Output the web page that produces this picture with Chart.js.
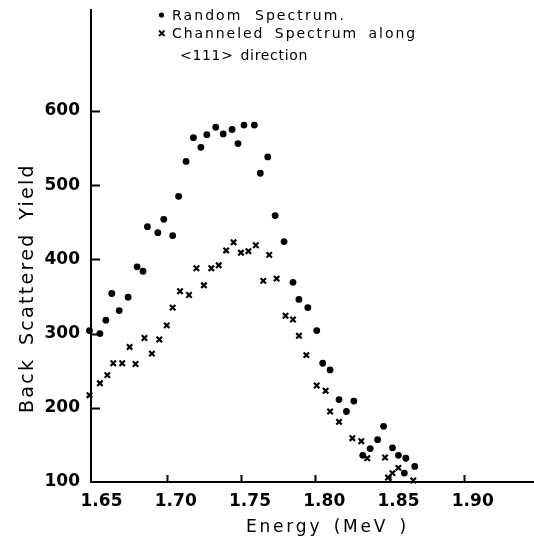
<!DOCTYPE html>
<html>
<head>
<meta charset="utf-8">
<script src="https://cdn.jsdelivr.net/npm/chart.js@4"></script>
<style>
  body { margin: 0; background: #fff; }
  #wrap { width: 534px; height: 542px; }
</style>
</head>
<body>
<div id="wrap"><canvas id="yieldChart" width="534" height="542"></canvas></div>
<script>
// values
const randomX = [1.648, 1.655, 1.659, 1.663, 1.668, 1.674, 1.680, 1.684, 1.687, 1.694, 1.698, 1.704, 1.708,
  1.713, 1.718, 1.723, 1.727, 1.733, 1.738, 1.744, 1.748, 1.752, 1.759, 1.763, 1.768, 1.773, 1.779, 1.785,
  1.789, 1.795, 1.801, 1.805, 1.810, 1.816, 1.821, 1.826, 1.832, 1.837, 1.842, 1.846, 1.852, 1.856, 1.860,
  1.861, 1.867];
const randomY = [304, 300, 318, 354, 331, 349, 390, 384, 444, 436, 454, 432, 485,
  532, 564, 551, 568, 578, 569, 575, 556, 581, 581, 516, 538, 459, 424, 369,
  346, 335, 304, 260, 251, 211, 195, 209, 136, 145, 157, 175, 146, 136, 112,
  132, 121];

const channeledX = [1.648, 1.655, 1.660, 1.664, 1.670, 1.675, 1.679, 1.685, 1.690, 1.695, 1.700, 1.704,
  1.709, 1.715, 1.720, 1.725, 1.730, 1.735, 1.740, 1.745, 1.750, 1.755, 1.760, 1.765, 1.769, 1.774, 1.780,
  1.785, 1.789, 1.794, 1.801, 1.807, 1.810, 1.816, 1.825, 1.831, 1.835, 1.847, 1.849, 1.852, 1.856, 1.866];
const channeledY = [217, 233, 244, 260, 260, 282, 259, 294, 273, 292, 311, 335,
  357, 352, 388, 365, 388, 392, 412, 423, 409, 411, 419, 371, 406, 374, 324,
  319, 297, 271, 230, 223, 195, 181, 159, 155, 132, 133, 106, 112, 119, 102];

const xTicks = [1.65, 1.70, 1.75, 1.80, 1.85, 1.90];
const yTicks = [100, 200, 300, 400, 500, 600];

const legendLines = ["Random Spectrum.", "Channeled Spectrum along", "<111> direction"];
const xTitle = "Energy (MeV )";
const yTitle = "Back Scattered Yield";

const FONT = "'DejaVu Sans', sans-serif";

// draw text stretched to a given width, a little extra on the word gaps
function spacedText(ctx, text, x, y, width) {
  ctx.letterSpacing = "0px";
  ctx.wordSpacing = "0px";
  const w = ctx.measureText(text).width;
  const gaps = (text.match(/ /g) || []).length;
  let extra = Math.max(0, width - w);
  if (gaps > 0) {
    ctx.wordSpacing = (extra * 0.15 / gaps) + "px";
    extra *= 0.85;
  }
  ctx.letterSpacing = (extra / text.length) + "px";
  ctx.fillText(text, x, y);
  ctx.letterSpacing = "0px";
  ctx.wordSpacing = "0px";
}

const decorPlugin = {
  id: "decor",
  afterDraw(chart) {
    const ctx = chart.ctx;
    const xs = chart.scales.x;
    const ys = chart.scales.y;
    const area = chart.chartArea;
    ctx.save();
    ctx.strokeStyle = "#000";
    ctx.fillStyle = "#000";
    ctx.lineWidth = 2;

    // inward tick marks
    ctx.beginPath();
    yTicks.slice(1).forEach(v => {
      const py = Math.round(ys.getPixelForValue(v)) + 0.5;
      ctx.moveTo(area.left, py);
      ctx.lineTo(area.left + 9, py);
    });
    xTicks.slice(1).forEach(v => {
      const px = Math.round(xs.getPixelForValue(v)) + 0.5;
      ctx.moveTo(px, area.bottom);
      ctx.lineTo(px, area.bottom - 7);
    });
    ctx.stroke();

    // axis titles
    ctx.textAlign = "left";
    ctx.textBaseline = "alphabetic";
    ctx.font = "17px " + FONT;
    spacedText(ctx, xTitle, 246, 532, 163);

    ctx.save();
    ctx.translate(33, 288);
    ctx.rotate(-Math.PI / 2);
    ctx.font = "19px " + FONT;
    spacedText(ctx, yTitle, -125, 0, 250);
    ctx.restore();

    // legend
    ctx.font = "14px " + FONT;
    ctx.beginPath();
    ctx.arc(161.5, 15, 2.6, 0, Math.PI * 2);
    ctx.fill();
    ctx.lineWidth = 1.8;
    ctx.beginPath();
    ctx.moveTo(159, 30.5); ctx.lineTo(164.5, 36);
    ctx.moveTo(164.5, 30.5); ctx.lineTo(159, 36);
    ctx.stroke();
    spacedText(ctx, legendLines[0], 172, 20, 174);
    spacedText(ctx, legendLines[1], 172, 38, 245);
    spacedText(ctx, legendLines[2], 180, 60, 128);
    ctx.restore();
  }
};

const ctx = document.getElementById("yieldChart").getContext("2d");

new Chart(ctx, {
  type: "scatter",
  data: {
    datasets: [
      {
        label: "Random Spectrum.",
        data: randomX.map((x, i) => ({ x: x, y: randomY[i] })),
        pointStyle: "circle",
        pointRadius: 3.4,
        backgroundColor: "#000",
        borderColor: "#000",
        borderWidth: 0,
        clip: false
      },
      {
        label: "Channeled Spectrum along <111> direction",
        data: channeledX.map((x, i) => ({ x: x, y: channeledY[i] })),
        pointStyle: "crossRot",
        pointRadius: 3.8,
        borderColor: "#000",
        borderWidth: 2.2,
        clip: false
      }
    ]
  },
  options: {
    responsive: false,
    animation: false,
    devicePixelRatio: 1,
    layout: { autoPadding: false, padding: { top: 10, right: 0, left: 0, bottom: 0 } },
    plugins: {
      legend: { display: false },
      tooltip: { enabled: false }
    },
    scales: {
      x: {
        type: "linear",
        min: 1.649,
        max: 1.9473,
        afterBuildTicks: s => { s.ticks = xTicks.map(v => ({ value: v })); },
        afterFit: s => { s.height = 60; s.paddingLeft = 0; s.paddingRight = 0; },
        grid: { display: false, drawTicks: false },
        border: { display: true, color: "#000", width: 2 },
        ticks: {
          color: "#000",
          padding: 9,
          labelOffset: 9,
          maxRotation: 0,
          font: { family: FONT, size: 17, weight: "bold" },
          callback: v => v.toFixed(2)
        }
      },
      y: {
        type: "linear",
        min: 100,
        max: 736,
        afterBuildTicks: s => { s.ticks = yTicks.map(v => ({ value: v })); },
        afterFit: s => { s.width = 91; s.paddingTop = 0; s.paddingBottom = 0; },
        grid: { display: false, drawTicks: false },
        border: { display: true, color: "#000", width: 2 },
        ticks: {
          color: "#000",
          padding: 11,
          font: { family: FONT, size: 17, weight: "bold" },
          callback: v => String(v)
        }
      }
    }
  },
  plugins: [decorPlugin]
});
</script>
</body>
</html>
